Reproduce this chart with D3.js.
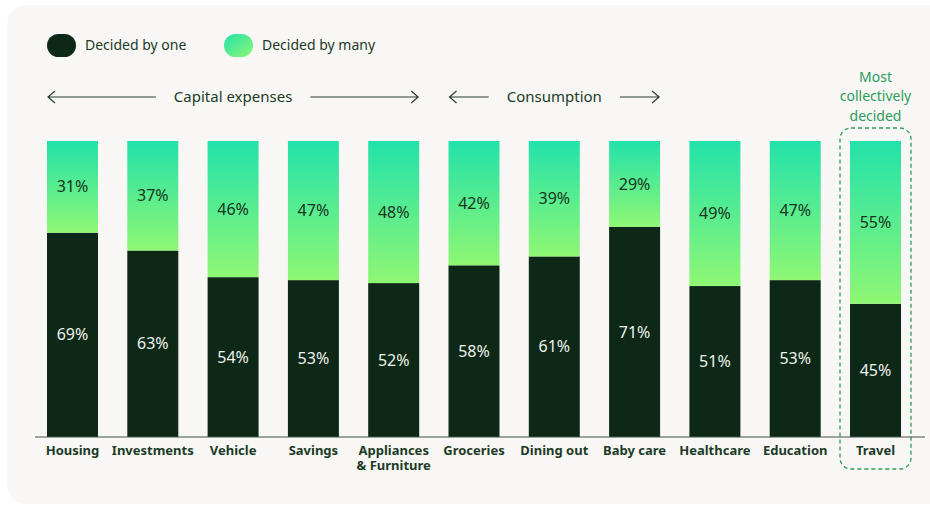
<!DOCTYPE html>
<html>
<head>
<meta charset="utf-8">
<script src="https://cdn.jsdelivr.net/npm/d3@7"></script>
<style>
  html, body { margin: 0; padding: 0; background: #ffffff; }
  svg { display: block; font-family: "Noto Sans", "Open Sans", sans-serif; }
</style>
</head>
<body>
<svg id="chart" width="930" height="508"></svg>
<script>
// Who decides household spending: share decided by one person vs. many
const categories = ["Housing", "Investments", "Vehicle", "Savings", "Appliances\n& Furniture",
  "Groceries", "Dining out", "Baby care", "Healthcare", "Education", "Travel"];
const decidedByOne  = [69, 63, 54, 53, 52, 58, 61, 71, 51, 53, 45];
const decidedByMany = [31, 37, 46, 47, 48, 42, 39, 29, 49, 47, 55];
const groups = [
  { label: "Capital expenses", from: "Housing", to: "Appliances\n& Furniture" },
  { label: "Consumption", from: "Groceries", to: "Baby care" }
];
const highlight = "Travel";
const highlightNote = ["Most", "collectively", "decided"];

const W = 930, H = 508;
const darkColor = "#0d2816";
const textColor = "#1c3b26";
const noteColor = "#2c9c5a";

const svg = d3.select("#chart");

// card background
svg.append("rect").attr("x", 7).attr("y", 5).attr("width", W + 20).attr("height", 499)
  .attr("rx", 20).attr("fill", "#f8f7f5");

const defs = svg.append("defs");
const grad = defs.append("linearGradient").attr("id", "manyGrad")
  .attr("x1", 0).attr("y1", 0).attr("x2", 0).attr("y2", 1);
grad.append("stop").attr("offset", "0%").attr("stop-color", "#22e2aa");
grad.append("stop").attr("offset", "100%").attr("stop-color", "#8ff774");
const legGrad = defs.append("linearGradient").attr("id", "legGrad")
  .attr("x1", 0).attr("y1", 0).attr("x2", 1).attr("y2", 1);
legGrad.append("stop").attr("offset", "0%").attr("stop-color", "#22e2aa");
legGrad.append("stop").attr("offset", "100%").attr("stop-color", "#8ff774");

const x = d3.scaleBand().domain(categories).range([47, 901]).paddingInner(0.365).paddingOuter(0);
const y = d3.scaleLinear().domain([0, 100]).range([437, 141]);

// legend
const legend = [
  { label: "Decided by one", fill: darkColor, x: 47 },
  { label: "Decided by many", fill: "url(#legGrad)", x: 224 }
];
const lg = svg.append("g").selectAll("g").data(legend).join("g")
  .attr("transform", d => `translate(${d.x},34)`);
lg.append("rect").attr("width", 29).attr("height", 23).attr("rx", 11.5).attr("fill", d => d.fill);
lg.append("text").attr("x", 38).attr("y", 11.5).attr("dy", "0.35em")
  .attr("font-size", 14).attr("fill", textColor).text(d => d.label);

// group headers with arrows
const arrowY = 97;
groups.forEach(g => {
  const x0 = x(g.from), x1 = x(g.to) + x.bandwidth();
  const cx = (x0 + x1) / 2;
  const t = svg.append("text").attr("x", cx).attr("y", arrowY).attr("dy", "0.35em")
    .attr("text-anchor", "middle").attr("font-size", 15).attr("fill", textColor).text(g.label);
  const tw = t.node().getComputedTextLength();
  const gap = 18;
  const left = [x0 + 1, cx - tw / 2 - gap];
  const right = [cx + tw / 2 + gap, x1 - 1];
  const ag = svg.append("g").attr("stroke", "#2b3f31").attr("stroke-width", 1.2).attr("fill", "none");
  ag.append("path").attr("d", `M${left[1]},${arrowY}H${left[0]}M${left[0] + 7},${arrowY - 6}L${left[0]},${arrowY}L${left[0] + 7},${arrowY + 6}`);
  ag.append("path").attr("d", `M${right[0]},${arrowY}H${right[1]}M${right[1] - 7},${arrowY - 6}L${right[1]},${arrowY}L${right[1] - 7},${arrowY + 6}`);
});

// highlight box and note
const hx = x(highlight);
svg.append("rect").attr("x", hx - 10).attr("y", 128).attr("width", x.bandwidth() + 20).attr("height", 341)
  .attr("rx", 11).attr("fill", "none").attr("stroke", noteColor).attr("stroke-width", 1.3)
  .attr("stroke-dasharray", "4,3");
svg.append("g").selectAll("text").data(highlightNote).join("text")
  .attr("x", hx + x.bandwidth() / 2).attr("y", (d, i) => 77 + i * 19.5).attr("dy", "0.35em")
  .attr("text-anchor", "middle").attr("font-size", 14).attr("fill", noteColor).text(d => d);

// bars
const data = categories.map((c, i) => ({ c, one: decidedByOne[i], many: decidedByMany[i] }));
const bars = svg.append("g").selectAll("g").data(data).join("g");
bars.append("rect").attr("x", d => x(d.c)).attr("width", x.bandwidth())
  .attr("y", d => y(d.one)).attr("height", d => y(0) - y(d.one)).attr("fill", darkColor);
bars.append("rect").attr("x", d => x(d.c)).attr("width", x.bandwidth())
  .attr("y", d => y(d.one + d.many)).attr("height", d => y(d.one) - y(d.one + d.many))
  .attr("fill", "url(#manyGrad)");
bars.append("text").attr("x", d => x(d.c) + x.bandwidth() / 2).attr("y", d => (y(0) + y(d.one)) / 2)
  .attr("dy", "0.35em").attr("text-anchor", "middle").attr("font-size", 16).attr("fill", "#eef3ee")
  .text(d => d.one + "%");
bars.append("text").attr("x", d => x(d.c) + x.bandwidth() / 2)
  .attr("y", d => (y(d.one) + y(d.one + d.many)) / 2)
  .attr("dy", "0.35em").attr("text-anchor", "middle").attr("font-size", 16).attr("fill", "#163520")
  .text(d => d.many + "%");

// baseline axis with category labels
svg.append("line").attr("x1", 35).attr("x2", 925).attr("y1", y(0)).attr("y2", y(0))
  .attr("stroke", "#3f5546").attr("stroke-width", 1.2);
const labelLines = categories.flatMap(c => c.split("\n").map((s, i) => ({ c, s, i })));
svg.append("g").selectAll("text").data(labelLines).join("text")
  .attr("x", d => x(d.c) + x.bandwidth() / 2).attr("y", d => 450 + d.i * 15).attr("dy", "0.35em")
  .attr("text-anchor", "middle").attr("font-size", 13).attr("font-weight", "bold")
  .attr("fill", textColor).text(d => d.s);
</script>
</body>
</html>
